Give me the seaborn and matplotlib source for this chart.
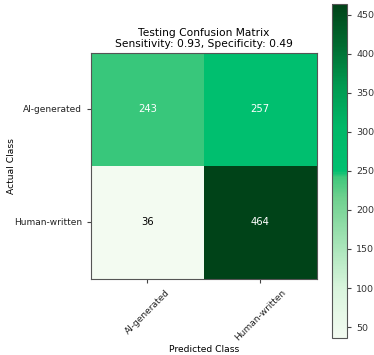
import matplotlib
matplotlib.use('Agg')
import matplotlib.pyplot as plt
from matplotlib.colors import LinearSegmentedColormap
import numpy as np
import pandas as pd
import seaborn as sb

classes = ['AI-generated', 'Human-written']
# rows = actual, columns = predicted
row_ai = [243, 257]
row_human = [36, 464]
sensitivity = 0.93
specificity = 0.49

cm = pd.DataFrame([row_ai, row_human], index=classes, columns=classes)

# greens with a jump around the middle, as in the picture
cmap = LinearSegmentedColormap.from_list('grn', [
    (0.0, '#f3fbf1'),
    (0.15, '#d8f4dc'),
    (0.25, '#b2e8c0'),
    (0.42, '#6ed08e'),
    (0.48, '#40c87c'),
    (0.50, '#00c070'),
    (0.63, '#00b868'),
    (0.76, '#009850'),
    (0.88, '#006a30'),
    (1.0, '#004318'),
])

plt.rcParams['font.size'] = 6.6
fig = plt.figure(figsize=(3.74, 3.55), dpi=100)
ax = fig.add_axes([0.243, 0.214, 0.604, 0.637])
cax = fig.add_axes([0.888, 0.048, 0.040, 0.941])

sb.heatmap(cm, annot=True, fmt='d', cmap=cmap, ax=ax, cbar_ax=cax,
           annot_kws={'fontsize': 7.2})

# text colour: white on the darker cells
for t in ax.texts:
    t.set_color('black' if int(t.get_text()) < 100 else 'white')

for s in ax.spines.values():
    s.set_visible(True)
    s.set_color('#555555')
    s.set_linewidth(0.8)
cbar = ax.collections[0].colorbar
cbar.outline.set_visible(True)
cbar.outline.set_edgecolor('#555555')
cbar.outline.set_linewidth(0.8)
cbar.set_ticks(np.arange(50, 451, 50))
cax.tick_params(labelsize=6.8, length=3, color='#444444', labelcolor='#333333')

ax.tick_params(length=3, color='#444444', labelsize=6.5, labelcolor='#222222')
ax.set_xticklabels(classes, rotation=45, ha='center')
ax.set_yticklabels(classes, rotation=0)
ax.set_title(f'Testing Confusion Matrix\nSensitivity: {sensitivity:.2f}, Specificity: {specificity:.2f}',
             fontsize=7.7, pad=4)
ax.set_xlabel('Predicted Class', fontsize=6.6, labelpad=2)
ax.set_ylabel('Actual Class', fontsize=6.6)
ax.yaxis.set_label_coords(-0.33, 0.5)

fig.savefig('out.png', dpi=100)
